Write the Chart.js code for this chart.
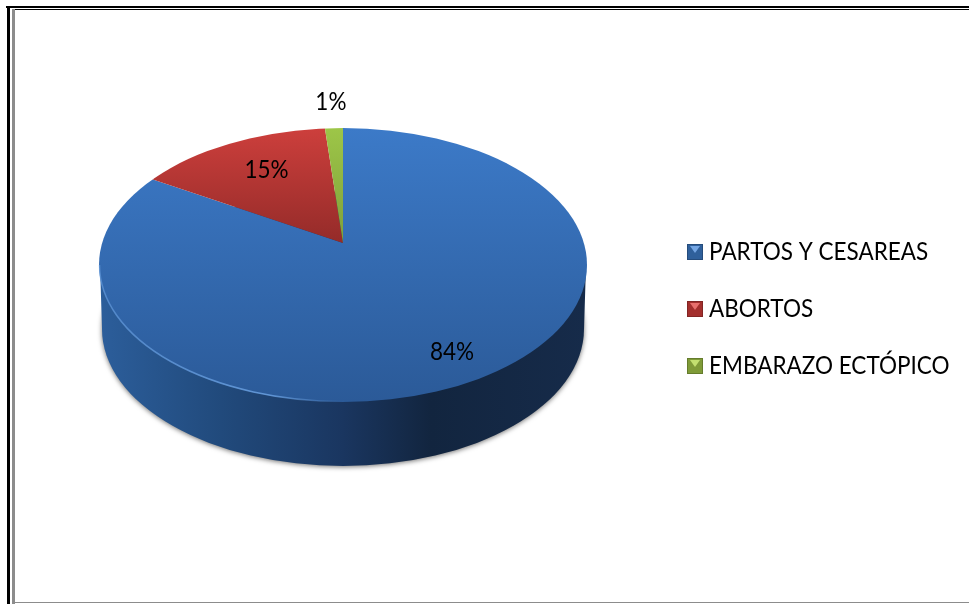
<!DOCTYPE html>
<html>
<head>
<meta charset="utf-8">
<style>
  html, body { margin: 0; padding: 0; background: #fff; }
  #wrap { position: relative; width: 969px; height: 604px; overflow: hidden; }
  #c { position: absolute; left: 0; top: 0; }
  .bar { position: absolute; }
</style>
<script src="https://cdn.jsdelivr.net/npm/chart.js@4/dist/chart.umd.min.js"></script>
</head>
<body>
<div id="wrap">
  <canvas id="c" width="969" height="604"></canvas>
  <div class="bar" style="left:6px;top:6px;width:963px;height:2px;background:#000"></div>
  <div class="bar" style="left:12px;top:9px;width:957px;height:1px;background:#000"></div>
  <div class="bar" style="left:7px;top:6px;width:3px;height:598px;background:#000"></div>
  <div class="bar" style="left:12px;top:9px;width:3px;height:595px;background:#8c8c8c"></div>
  <div class="bar" style="left:15px;top:602px;width:954px;height:1px;background:#8c8c8c"></div>
</div>
<script>
// values, labels show the rounded percent
const categories = ['PARTOS Y CESAREAS', 'ABORTOS', 'EMBARAZO ECTÓPICO'];
const seriesValues = [84.1, 14.6, 1.3];
const topColors = ['#3c7ac8', '#cd3f3c', '#9dc648'];
const bottomColors = ['#2b5a98', '#942b29', '#7f9f3a'];
const iconDark = ['#2f609b', '#a32f2d', '#7f9b38'];
const iconLight = ['#74a6e4', '#e86f6c', '#c3e070'];

const FONT = 'Lato, "Liberation Sans", sans-serif';
const SQUEEZE = 0.9;

// 3D look: where the slice tip sits and the ellipse of the top face
const APEX = { x: 343, y: 243 };
const FACE = { x: 343, y: 265, rx: 244, ry: 137 };
const FOOT = { x: 343, y: 329, rx: 241, ry: 137 };
const SCALE_X = 2.31, SCALE_Y = 1.2;

// label placement: fraction of the radius along the slice middle, plus nudge
const labelFrac = [0.66, 0.44, 0.775];
const labelNudge = [[-2, 3], [3, -4], [-1, 0]];

// legend placement
const LEGEND = { iconX: 687, textX: 709, firstY: 252, pitch: 57 };

function screenToChartY(cy, sy) {
  return cy + (sy - APEX.y) / SCALE_Y;
}

function sliceFill(context) {
  const i = context.dataIndex;
  const chart = context.chart;
  const area = chart.chartArea;
  const cy = area ? (area.top + area.bottom) / 2 : chart.height / 2;
  const bottom = i === 0 ? 402 : 243;
  const g = chart.ctx.createLinearGradient(0, screenToChartY(cy, 128), 0, screenToChartY(cy, bottom));
  g.addColorStop(0, topColors[i]);
  g.addColorStop(1, bottomColors[i]);
  return g;
}

function drawIcon(ctx, i, x, y) {
  ctx.fillStyle = iconDark[i];
  ctx.fillRect(x, y, 16, 16);
  ctx.fillStyle = iconLight[i];
  ctx.beginPath();
  ctx.moveTo(x + 3, y + 2);
  ctx.lineTo(x + 13, y + 2);
  ctx.lineTo(x + 8, y + 9);
  ctx.closePath();
  ctx.fill();
  ctx.strokeStyle = 'rgba(0,0,0,0.2)';
  ctx.strokeRect(x + 0.5, y + 0.5, 15, 15);
}

function squeezedText(ctx, text, x, y) {
  ctx.save();
  ctx.translate(x, y);
  ctx.scale(SQUEEZE, 1);
  ctx.fillText(text, 0, 0);
  ctx.restore();
}

const pie3d = {
  id: 'pie3d',
  beforeDatasetsDraw(chart) {
    const ctx = chart.ctx;
    const arc = chart.getDatasetMeta(0).data[0];

    // side wall
    ctx.save();
    const wall = ctx.createLinearGradient(FACE.x - FACE.rx, 0, FACE.x + FACE.rx, 0);
    wall.addColorStop(0, '#2c5e9b');
    wall.addColorStop(0.25, '#214a7c');
    wall.addColorStop(0.5, '#1a3660');
    wall.addColorStop(0.68, '#12253f');
    wall.addColorStop(1, '#162b4a');
    ctx.fillStyle = wall;
    ctx.shadowColor = 'rgba(0,0,0,0.55)';
    ctx.shadowBlur = 5;
    ctx.shadowOffsetY = 1;
    ctx.beginPath();
    ctx.ellipse(FOOT.x, FOOT.y, FOOT.rx, FOOT.ry, 0, 0, Math.PI * 2);
    ctx.fill();
    ctx.shadowColor = 'transparent';
    ctx.beginPath();
    ctx.moveTo(FACE.x - FACE.rx + 1, FACE.y);
    ctx.lineTo(FOOT.x - FOOT.rx, FOOT.y);
    ctx.lineTo(FOOT.x + FOOT.rx, FOOT.y);
    ctx.lineTo(FACE.x + FACE.rx - 1, FACE.y);
    ctx.closePath();
    ctx.fill();
    ctx.restore();

    // the slices are drawn stretched and cut to the top face
    ctx.save();
    ctx.beginPath();
    ctx.ellipse(FACE.x, FACE.y, FACE.rx, FACE.ry, 0, 0, Math.PI * 2);
    ctx.clip();
    ctx.translate(APEX.x, APEX.y);
    ctx.scale(SCALE_X, SCALE_Y);
    ctx.translate(-arc.x, -arc.y);
  },
  afterDatasetsDraw(chart) {
    const ctx = chart.ctx;
    const meta = chart.getDatasetMeta(0);
    ctx.restore();

    // light rim on the front of the top face, fading out towards the middle
    ctx.save();
    const rim = ctx.createLinearGradient(FACE.x - FACE.rx, 0, FACE.x, 0);
    rim.addColorStop(0, 'rgba(110,165,230,0.55)');
    rim.addColorStop(0.7, 'rgba(110,165,230,0.8)');
    rim.addColorStop(1, 'rgba(110,165,230,0)');
    ctx.strokeStyle = rim;
    ctx.lineWidth = 1.5;
    ctx.beginPath();
    ctx.ellipse(FACE.x, FACE.y, FACE.rx - 0.5, FACE.ry - 0.5, 0, Math.PI * 0.5, Math.PI);
    ctx.stroke();
    ctx.restore();

    // percent labels
    ctx.save();
    ctx.fillStyle = '#000';
    ctx.font = '25px ' + FONT;
    ctx.textAlign = 'center';
    ctx.textBaseline = 'middle';
    const total = seriesValues.reduce((a, b) => a + b, 0);
    meta.data.forEach((arc, i) => {
      const mid = (arc.startAngle + arc.endAngle) / 2;
      const r = arc.outerRadius * labelFrac[i];
      const x = APEX.x + Math.cos(mid) * r * SCALE_X + labelNudge[i][0];
      const y = APEX.y + Math.sin(mid) * r * SCALE_Y + labelNudge[i][1];
      squeezedText(ctx, Math.round(seriesValues[i] / total * 100) + '%', x, y);
    });
    ctx.restore();

    // legend, squeezed like the original so it is drawn here
    ctx.save();
    ctx.font = '25px ' + FONT;
    ctx.textAlign = 'left';
    ctx.textBaseline = 'middle';
    categories.forEach((name, i) => {
      const y = LEGEND.firstY + LEGEND.pitch * i;
      drawIcon(ctx, i, LEGEND.iconX, y - 8);
      ctx.fillStyle = '#000';
      squeezedText(ctx, name, LEGEND.textX, y);
    });
    ctx.restore();
  }
};

new Chart(document.getElementById('c'), {
  type: 'pie',
  data: {
    labels: categories,
    datasets: [{
      data: seriesValues,
      backgroundColor: sliceFill,
      borderWidth: 0,
      hoverOffset: 0,
      clip: false
    }]
  },
  options: {
    responsive: false,
    animation: false,
    events: [],
    layout: { padding: { left: 20, right: 300, top: 91, bottom: 209 } },
    plugins: {
      tooltip: { enabled: false },
      legend: { display: false }
    }
  },
  plugins: [pie3d]
});
</script>
</body>
</html>
